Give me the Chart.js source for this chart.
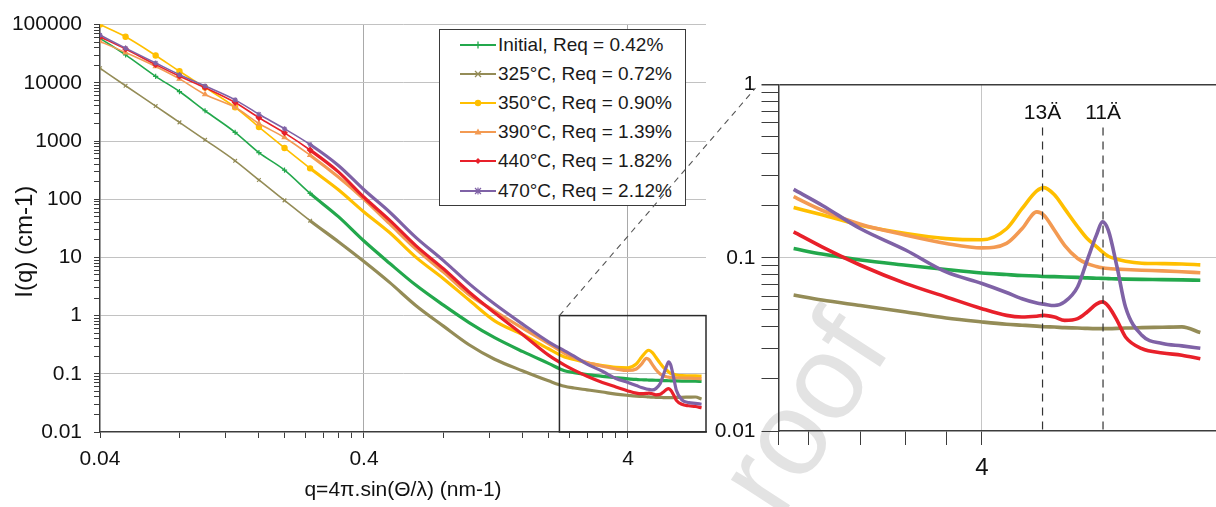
<!DOCTYPE html>
<html>
<head>
<meta charset="utf-8">
<script src="https://cdn.jsdelivr.net/npm/chart.js@4.4.0/dist/chart.umd.min.js"></script>
<style>
  html, body { margin: 0; padding: 0; background: #fff; overflow: hidden; }
  #wrap { position: relative; width: 1216px; height: 507px; overflow: hidden; }
  #wrap canvas { position: absolute; left: 0; top: 0; }
  #watermark {
    position: absolute; left: 778px; top: 420px;
    font: 120px "Liberation Sans", Arial, sans-serif; line-height: 1;
    color: #e3e3e3; white-space: nowrap;
    transform-origin: 0 100px; transform: rotate(-57deg);
  }
  #legend {
    position: absolute; left: 439px; top: 29px; width: 247px; height: 177px;
    box-sizing: border-box; border: 1.3px solid #3a3a3a; background: #fff;
    font: 19px "Liberation Sans", Arial, sans-serif; color: #1a1a1a;
  }
  #legend .row { height: 29.2px; display: flex; align-items: center; }
  #legend svg { margin-left: 20px; margin-right: 2px; }
</style>
</head>
<body>
<div id="wrap">
  <div id="watermark">roof</div>
  <canvas id="mainChart" width="1216" height="507"></canvas>
  <div id="legend"></div>
  <canvas id="zoomChart" width="1240" height="507"></canvas>
</div>
<script>
// q grid (nm-1) shared by all curves
const qValues = [0.04, 0.05, 0.065, 0.08, 0.1, 0.13, 0.16, 0.2, 0.25, 0.32, 0.4, 0.5, 0.63, 0.8, 1.0, 1.25, 1.6, 2.0,
  2.3, 2.5, 2.8, 3.2, 3.6, 4.0, 4.3, 4.5, 4.7, 4.8, 4.95, 5.1, 5.3, 5.45, 5.6, 5.7, 5.8, 5.95, 6.1, 6.4, 6.8, 7.2, 7.6];

// I(q) (cm-1)
const initialI = [58000, 30200, 12900, 7080, 3310, 1410, 631, 316, 126, 50.1, 19.1, 7.94, 3.31, 1.51, 0.759, 0.417, 0.24, 0.151,
  0.113, 0.105, 0.097, 0.0905, 0.0855, 0.0817, 0.080, 0.079, 0.0785, 0.078, 0.0778, 0.0775, 0.077, 0.0765, 0.0762, 0.076, 0.0758, 0.0755, 0.0753, 0.075, 0.0748, 0.0745, 0.0741];
const t325I = [17800, 8910, 3980, 2090, 1047, 457, 214, 95.5, 42.7, 18.6, 8.5, 3.72, 1.48, 0.66, 0.316, 0.178, 0.112, 0.0759,
  0.061, 0.057, 0.053, 0.0486, 0.0449, 0.0426, 0.0413, 0.0408, 0.0403, 0.040, 0.0398, 0.0395, 0.0393, 0.0391, 0.039, 0.039, 0.039, 0.0391, 0.0393, 0.0395, 0.0397, 0.0399, 0.037];
const t350I = [100000, 61700, 29500, 15800, 8320, 3800, 1740, 759, 339, 145, 60.3, 26.7, 10.0, 4.31, 1.85, 0.813, 0.468, 0.269,
  0.195, 0.177, 0.154, 0.138, 0.129, 0.127, 0.147, 0.192, 0.243, 0.254, 0.231, 0.192, 0.151, 0.129, 0.116, 0.108, 0.102, 0.098, 0.0955, 0.093, 0.0925, 0.092, 0.091];
const t390I = [51300, 33100, 19100, 11700, 6310, 3800, 2000, 1150, 570, 240, 100, 38.0, 13.9, 5.58, 2.29, 1.20, 0.603, 0.331,
  0.225, 0.188, 0.156, 0.135, 0.121, 0.114, 0.121, 0.147, 0.184, 0.176, 0.144, 0.118, 0.099, 0.0925, 0.089, 0.0875, 0.0866, 0.086, 0.0855, 0.0847, 0.084, 0.083, 0.082];
const t440I = [61700, 38000, 20500, 13000, 8260, 4590, 2510, 1380, 700, 295, 108, 43.7, 15.8, 6.37, 2.55, 1.12, 0.47, 0.209,
  0.141, 0.1155, 0.0905, 0.0709, 0.0594, 0.0508, 0.0465, 0.0455, 0.046, 0.0465, 0.0455, 0.0435, 0.0445, 0.0486, 0.054, 0.0556, 0.0525, 0.0435, 0.0349, 0.0299, 0.0282, 0.0274, 0.0261];
const t470I = [66100, 39400, 21900, 13800, 8810, 5090, 2880, 1620, 871, 380, 145, 60.3, 21.9, 8.81, 3.54, 1.58, 0.708, 0.355,
  0.248, 0.201, 0.147, 0.1105, 0.0828, 0.071, 0.063, 0.058, 0.0548, 0.054, 0.053, 0.0556, 0.068, 0.0967, 0.135, 0.161, 0.144, 0.0885, 0.052, 0.0357, 0.032, 0.031, 0.030];

const seriesLabels = ["Initial, Req = 0.42%", "325°C, Req = 0.72%", "350°C, Req = 0.90%",
  "390°C, Req = 1.39%", "440°C, Req = 1.82%", "470°C, Req = 2.12%"];
const seriesColors = ["#23a84c", "#948c57", "#ffbf00", "#f39a52", "#e8202a", "#7f62a6"];
const seriesMarkers = ["cross", "crossRot", "circle", "triangle", "rectRot", "star"];
const seriesValues = [initialI, t325I, t350I, t390I, t440I, t470I];

// axis ticks
const xMajorTicks = [0.04, 0.4, 4];
const xMajorLabels = ["0.04", "0.4", "4"];
const yMajorTicks = [0.01, 0.1, 1, 10, 100, 1000, 10000, 100000];
const yMajorLabels = ["0.01", "0.1", "1", "10", "100", "1000", "10000", "100000"];
const zoomXMajor = [4];
const zoomXLabels = ["4"];
const zoomYMajor = [0.01, 0.1, 1];
const zoomYLabels = ["0.01", "0.1", "1"];

// zoomed window and the two d-spacing markers
const zoomQRange = [2.2, 8.1];
const zoomIRange = [0.01, 1];
const zoomStart = 2.3;
const peakQ = [4.78, 5.71];
const peakLabels = ["13Ä", "11Ä"];

const family = '"Liberation Sans", Arial, sans-serif';
const axisColor = "#3c3c3c";

function idx(arr, v) {
  return arr.findIndex(a => Math.abs(a - v) <= Math.abs(a) * 1e-6);
}

// minor tick positions: 1..9 times each major of the axis
function withMinors(majors, lo, hi) {
  const out = [];
  majors.forEach(m => {
    for (let k = 1; k <= 9; k++) {
      const v = +(m * k).toPrecision(6);
      if (v >= lo - 1e-9 && v <= hi + 1e-9 && idx(out, v) < 0) out.push(v);
    }
  });
  return out;
}

const mainXTicks = withMinors(xMajorTicks, 0.04, 7.9);
const mainYTicks = withMinors(yMajorTicks, 0.01, 100000);
const zoomXTicks = [zoomQRange[0]].concat(withMinors([0.4, 4], 2.3, 4));
const zoomYTicks = withMinors(zoomYMajor, 0.01, 1);

function points(values, from) {
  return qValues.map((q, i) => ({ x: q, y: values[i] })).filter(p => p.x >= from);
}

// ---------- main chart ----------
const mainChart = new Chart(document.getElementById("mainChart"), {
  type: "line",
  data: {
    datasets: seriesValues.map((vals, s) => ({
      label: seriesLabels[s],
      data: points(vals, 0),
      borderColor: seriesColors[s],
      backgroundColor: seriesColors[s],
      pointStyle: seriesMarkers[s],
      pointRadius: c => (c.raw && c.raw.x < 0.3 ? 2.6 : 0),
      pointBorderWidth: 1.2,
      borderWidth: 1.5,
      segment: { borderWidth: c => (c.p0.parsed.x >= 0.25 ? 3.2 : 1.6) },
      cubicInterpolationMode: "monotone",
      order: 5 - s
    }))
  },
  options: {
    responsive: false,
    animation: false,
    events: [],
    layout: { padding: { left: 0, top: 20, right: 510, bottom: 0 } },
    plugins: { legend: { display: false }, tooltip: { enabled: false } },
    scales: {
      x: {
        type: "logarithmic", min: 0.04, max: 7.9,
        afterBuildTicks: s => { s.ticks = mainXTicks.map(v => ({ value: v })); },
        afterFit: s => { s.height = 75; },
        ticks: {
          autoSkip: false, maxRotation: 0, padding: 9, color: "#111",
          font: { family: family, size: 21 },
          callback: v => { const k = idx(xMajorTicks, v); return k >= 0 ? xMajorLabels[k] : ""; }
        },
        grid: {
          color: c => (c.tick && idx(xMajorTicks, c.tick.value) > 0 ? "#a9a9a9" : "rgba(0,0,0,0)"),
          tickColor: axisColor, tickLength: 6
        },
        border: { color: axisColor, width: 1.5 },
        title: {
          display: true, text: "q=4π.sin(Θ/λ) (nm-1)", color: "#111",
          font: { family: family, size: 21 }, padding: { top: 0, bottom: 4 }
        }
      },
      y: {
        type: "logarithmic", min: 0.01, max: 100000,
        afterBuildTicks: s => { s.ticks = mainYTicks.map(v => ({ value: v })); },
        afterFit: s => { s.width = 100; },
        ticks: {
          autoSkip: false, padding: 12, color: "#111",
          font: { family: family, size: 21 },
          callback: v => { const k = idx(yMajorTicks, v); return k >= 0 ? yMajorLabels[k] : ""; }
        },
        grid: {
          color: c => (c.tick && idx(yMajorTicks, c.tick.value) > 0 ? "#c2c2c2" : "rgba(0,0,0,0)"),
          tickColor: axisColor, tickLength: 6
        },
        border: { color: axisColor, width: 1.5 },
        title: {
          display: true, text: "I(q) (cm-1)    ", color: "#111",
          font: { family: family, size: 24 }, padding: { top: 11, bottom: 0 }
        }
      }
    }
  },
  plugins: [{
    id: "zoomBox",
    afterDatasetsDraw(chart) {
      const { ctx, chartArea, scales } = chart;
      const x0 = scales.x.getPixelForValue(zoomQRange[0]);
      const y0 = scales.y.getPixelForValue(zoomIRange[1]);
      const y1 = scales.y.getPixelForValue(zoomIRange[0]);
      ctx.save();
      ctx.strokeStyle = "#2a2a2a";
      ctx.lineWidth = 1.5;
      ctx.strokeRect(x0, y0, chartArea.right - x0, y1 - y0);
      ctx.restore();
    }
  }]
});

// ---------- legend ----------
function markerSvg(style, color) {
  const c = 18, m = 7;
  let shape = "";
  if (style === "cross") shape = `<path d="M${c - 3.5} ${m}h7M${c} ${m - 3.5}v7" stroke="${color}" stroke-width="1.3"/>`;
  else if (style === "crossRot") shape = `<path d="M${c - 3} ${m - 3}l6 6M${c - 3} ${m + 3}l6 -6" stroke="${color}" stroke-width="1.3"/>`;
  else if (style === "circle") shape = `<circle cx="${c}" cy="${m}" r="3.2" fill="${color}"/>`;
  else if (style === "triangle") shape = `<path d="M${c} ${m - 3.5}l3.5 6h-7z" fill="${color}"/>`;
  else if (style === "rectRot") shape = `<path d="M${c} ${m - 3}l3 3l-3 3l-3 -3z" fill="${color}"/>`;
  else shape = `<path d="M${c - 3} ${m - 3}l6 6M${c - 3} ${m + 3}l6 -6M${c} ${m - 3.5}v7" stroke="${color}" stroke-width="1.2"/>`;
  return `<svg width="36" height="14"><line x1="0" y1="${m}" x2="36" y2="${m}" stroke="${color}" stroke-width="2"/>${shape}</svg>`;
}
document.getElementById("legend").innerHTML = mainChart.data.datasets.map(d =>
  `<div class="row">${markerSvg(d.pointStyle, d.borderColor)}<span>${d.label}</span></div>`).join("");

// ---------- zoomed chart ----------
new Chart(document.getElementById("zoomChart"), {
  type: "line",
  data: {
    datasets: seriesValues.map((vals, s) => ({
      label: seriesLabels[s],
      data: points(vals, zoomStart),
      borderColor: seriesColors[s],
      borderWidth: 3.6,
      pointRadius: 0,
      cubicInterpolationMode: "monotone",
      order: 5 - s
    }))
  },
  options: {
    responsive: false,
    animation: false,
    events: [],
    layout: { padding: { left: 708.5, top: 84.5, right: 18, bottom: 0 } },
    plugins: { legend: { display: false }, tooltip: { enabled: false } },
    scales: {
      x: {
        type: "logarithmic", min: zoomQRange[0], max: zoomQRange[1],
        afterBuildTicks: s => { s.ticks = zoomXTicks.map(v => ({ value: v })); },
        afterFit: s => { s.height = 76; },
        ticks: {
          autoSkip: false, maxRotation: 0, padding: 9, color: "#111",
          font: { family: family, size: 24 },
          callback: v => { const k = idx(zoomXMajor, v); return k >= 0 ? zoomXLabels[k] : ""; }
        },
        grid: {
          color: c => (c.tick && idx(zoomXMajor, c.tick.value) >= 0 ? "#c6c6c6" : "rgba(0,0,0,0)"),
          tickColor: axisColor, tickLength: 14
        },
        border: { color: axisColor, width: 1.5 }
      },
      y: {
        type: "logarithmic", min: zoomIRange[0], max: zoomIRange[1],
        afterBuildTicks: s => { s.ticks = zoomYTicks.map(v => ({ value: v })); },
        afterFit: s => { s.width = 70; },
        ticks: {
          autoSkip: false, padding: 6, color: "#111",
          font: { family: family, size: 21 },
          callback: v => { const k = idx(zoomYMajor, v); return k >= 0 ? zoomYLabels[k] : ""; }
        },
        grid: {
          color: c => {
            if (!c.tick) return "rgba(0,0,0,0)";
            if (idx([1], c.tick.value) >= 0) return axisColor;
            return idx([0.1], c.tick.value) >= 0 ? "#c6c6c6" : "rgba(0,0,0,0)";
          },
          lineWidth: c => (c.tick && idx([1], c.tick.value) >= 0 ? 1.5 : 1),
          tickColor: axisColor, tickLength: 17
        },
        border: { color: axisColor, width: 1.5 }
      }
    }
  },
  plugins: [{
    id: "peaksAndLink",
    afterDatasetsDraw(chart) {
      const { ctx, chartArea, scales } = chart;
      ctx.save();
      // d-spacing markers
      ctx.strokeStyle = "#333";
      ctx.lineWidth = 1.2;
      ctx.setLineDash([8, 6]);
      ctx.fillStyle = "#111";
      ctx.font = "21px " + family;
      ctx.textAlign = "center";
      ctx.textBaseline = "middle";
      peakQ.forEach((q, i) => {
        const x = scales.x.getPixelForValue(q);
        ctx.beginPath();
        ctx.moveTo(x, chartArea.top + 43);
        ctx.lineTo(x, chartArea.bottom);
        ctx.stroke();
        ctx.fillText(peakLabels[i], x, chartArea.top + 29);
      });
      // dashed link from the box in the main plot
      const ms = mainChart.scales;
      const sx = ms.x.getPixelForValue(zoomQRange[0]);
      const sy = ms.y.getPixelForValue(zoomIRange[1]);
      ctx.strokeStyle = "#555";
      ctx.lineWidth = 1.1;
      ctx.setLineDash([6, 5]);
      ctx.beginPath();
      ctx.moveTo(sx, sy);
      ctx.lineTo(chartArea.left - 23, chartArea.top + 3.5);
      ctx.stroke();
      ctx.restore();
    }
  }]
});
</script>
</body>
</html>
